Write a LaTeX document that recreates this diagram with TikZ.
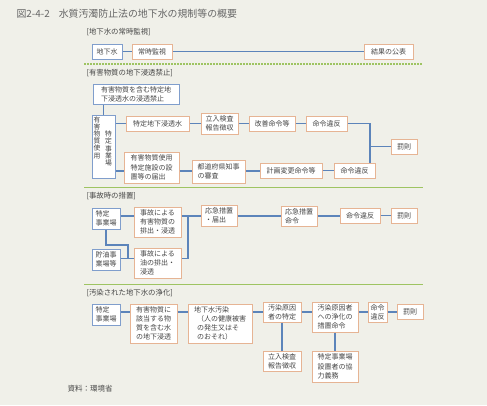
\documentclass[tikz,border=0pt]{standalone}
\usepackage{fontspec}
\usepackage{xcolor}
\usetikzlibrary{positioning,calc}
\newfontfamily\jpfont{Noto Sans CJK JP}
\definecolor{bgcol}{RGB}{240,240,233}
\definecolor{srcblue}{RGB}{128,158,204}
\definecolor{boxorange}{RGB}{230,180,148}
\definecolor{linkblue}{RGB}{92,132,186}
\definecolor{rulegreen}{RGB}{158,196,98}
\definecolor{txtgray}{RGB}{70,70,70}

\begin{document}
\begin{tikzpicture}[x=1pt, y=-1pt,
  every node/.style={text=txtgray, font=\jpfont\fontsize{7}{9.2}\selectfont},
  srcbox/.style={draw=srcblue, line width=1pt, fill=white, inner sep=1pt, align=left},
  obox/.style={draw=boxorange, line width=1pt, fill=white, inner sep=1pt, align=left},
  link/.style={linkblue, line width=1.2pt},
  seclabel/.style={anchor=west, font=\jpfont\fontsize{7.4}{9}\selectfont},
  vcol/.style={align=center, inner sep=0pt, font=\jpfont\fontsize{6.8}{7.2}\selectfont}]
		\useasboundingbox (0,0) rectangle (487,405);
		\fill[bgcol] (0,0) rectangle (487,405);
		
		\node[anchor=west, font=\jpfont\fontsize{9.9}{12}\selectfont, text=black!60] (title) at (13,14) {図2-4-2\hspace{9pt}水質汚濁防止法の地下水の規制等の概要};
		
		\node[seclabel] (lab1) at (83,32) {[地下水の常時監視]};
		\node[srcbox, minimum width=30, minimum height=15] (gw) at (107,51.5) {地下水};
		\node[obox, minimum width=40, minimum height=15] (kanshi) at (152,51.5) {常時監視};
		\node[obox, minimum width=49, minimum height=15] (kohyo) at (388.5,51.5) {結果の公表};
		\draw[link] (gw) -- (kanshi);
		\draw[link] (kanshi) -- (kohyo);
		\draw[rulegreen, line width=1.2pt, dash pattern=on 1.5pt off 1.5pt] (84,64) -- (423,64);
		
		\node[seclabel] (lab2) at (83,73) {[有害物質の地下浸透禁止]};
		\node[srcbox, minimum width=86, minimum height=20] (kinshi) at (136,94) {有害物質を含む特定地\\下浸透水の浸透禁止};
		\node[srcbox, minimum width=23, minimum height=63] (vbox) at (103.5,146.5) {};
		\node[vcol] (vleft) at (97,137.5) {有\\害\\物\\質\\使\\用};
		\node[vcol] (vright) at (108.5,148.5) {特\\定\\事\\業\\場};
		\node[obox, minimum width=63, minimum height=15] (shinto) at (157.5,123.5) {特定地下浸透水};
		\node[obox, minimum width=37, minimum height=21] (tachi2) at (219.5,123.5) {立入検査\\報告徴収};
		\node[obox, minimum width=46, minimum height=15] (kaizen) at (272,123.5) {改善命令等};
		\node[obox, minimum width=41, minimum height=15] (ihan2a) at (326.5,123.5) {命令違反};
		\node[obox, minimum width=26, minimum height=15] (batsu2) at (404,146.5) {罰則};
		\node[obox, minimum width=55, minimum height=31] (todoke) at (151.5,167.5) {有害物質使用\\特定施設の設\\置等の届出};
		\node[obox, minimum width=53, minimum height=23] (shinsa) at (218.5,171.5) {都道府県知事\\の審査};
		\node[obox, minimum width=62, minimum height=15] (keikaku) at (291,170.5) {計画変更命令等};
		\node[obox, minimum width=41, minimum height=15] (ihan2b) at (354.5,170.5) {命令違反};
		\coordinate (row2a) at (0,123.5);
		\coordinate (row2b) at (0,171);
		\coordinate (bus2) at (370,0);
		\draw[link] (kinshi.south -| vbox.north) -- (vbox.north);
		\draw[link] (vbox.east |- row2a) -- (shinto.west);
		\draw[link] (shinto) -- (tachi2);
		\draw[link] (tachi2) -- (kaizen);
		\draw[link] (kaizen) -- (ihan2a);
		\draw[link] (ihan2a.east) -- (bus2 |- ihan2a.east) -- (bus2 |- ihan2b.north);
		\draw[link] (bus2 |- batsu2.west) -- (batsu2.west);
		\draw[link] (vbox.east |- row2b) -- (todoke.west |- row2b);
		\draw[link] (todoke.east |- row2b) -- (shinsa.west |- row2b);
		\draw[link] (shinsa.east |- row2b) -- (keikaku.west |- row2b);
		\draw[link] (keikaku) -- (ihan2b);
		\draw[rulegreen, line width=1pt] (84,187) -- (423,187);
		
		\node[seclabel] (lab3) at (83,196) {[事故時の措置]};
		\node[srcbox, minimum width=28, minimum height=21] (jigyo3) at (106,218.5) {特定\\事業場};
		\node[obox, minimum width=47, minimum height=30] (jiko1) at (157.5,222) {事故による\\有害物質の\\排出・浸透};
		\node[obox, minimum width=36, minimum height=21] (oukyu1) at (219,215.5) {応急措置\\・届出};
		\node[srcbox, minimum width=28, minimum height=21] (choyu) at (106,259.5) {貯油事\\業場等};
		\node[obox, minimum width=47, minimum height=30] (jiko2) at (157.5,263) {事故による\\油の排出・\\浸透};
		\node[obox, minimum width=36, minimum height=20] (oukyu2) at (299,216) {応急措置\\命令};
		\node[obox, minimum width=40, minimum height=15] (ihan3) at (360,215.5) {命令違反};
		\node[obox, minimum width=26, minimum height=15] (batsu3) at (404,215.5) {罰則};
		\coordinate (row3a) at (0,216);
		\coordinate (row3b) at (0,258.5);
		\coordinate (bus3) at (188,0);
		\coordinate (kink3) at (128,245);
		\draw[link] (jigyo3.east |- row3a) -- (jiko1.west |- row3a);
		\draw[link] (jiko1.east |- row3a) -- (oukyu1.west |- row3a);
		\draw[link] (bus3 |- row3a) -- (bus3 |- row3b) -- (jiko2.east |- row3b);
		\draw[link] (choyu.east |- row3b) -- (jiko2.west |- row3b);
		\draw[link] (jigyo3.south) |- (kink3) -- (kink3 |- row3b);
		\draw[link] (oukyu1.east |- row3a) -- (oukyu2.west |- row3a);
		\draw[link] (oukyu2.east |- row3a) -- (ihan3.west |- row3a);
		\draw[link] (ihan3) -- (batsu3);
		\draw[rulegreen, line width=1pt] (84,284) -- (423,284);
		
		\node[seclabel] (lab4) at (83,293) {[汚染された地下水の浄化]};
		\node[srcbox, minimum width=28, minimum height=21] (jigyo4) at (106,314.5) {特定\\事業場};
		\node[obox, minimum width=47, minimum height=39] (gaito) at (153.5,323.5) {有害物質に\\該当する物\\質を含む水\\の地下浸透};
		\node[obox, minimum width=64, minimum height=39] (osen) at (220,323.5) {地下水汚染\\\hspace*{3pt}（人の健康被害\\\hspace*{3pt}の発生又はそ\\\hspace*{3pt}のおそれ）};
		\node[obox, minimum width=38, minimum height=20] (tokutei) at (282,312) {汚染原因\\者の特定};
		\node[obox, minimum width=46, minimum height=30] (sochi) at (335,317) {汚染原因者\\への浄化の\\措置命令};
		\node[obox, minimum width=19, minimum height=20] (ihan4) at (377.5,312) {命令\\違反};
		\node[obox, minimum width=26, minimum height=15] (batsu4) at (410,311.5) {罰則};
		\node[obox, minimum width=38, minimum height=20] (tachi4) at (282,361) {立入検査\\報告徴収};
		\node[obox, minimum width=46, minimum height=31] (kyoryoku) at (335,366.5) {特定事業場\\設置者の協\\力義務};
		\coordinate (row4) at (0,312);
		\draw[link] (jigyo4.east |- row4) -- (gaito.west |- row4);
		\draw[link] (gaito.east |- row4) -- (osen.west |- row4);
		\draw[link] (osen.east |- row4) -- (tokutei.west |- row4);
		\draw[link] (tokutei.east |- row4) -- (sochi.west |- row4);
		\draw[link] (sochi.east |- row4) -- (ihan4.west |- row4);
		\draw[link] (ihan4.east |- row4) -- (batsu4.west |- row4);
		\draw[link] (tokutei) -- (tachi4);
		\draw[link] (sochi) -- (kyoryoku);
		
		\node[anchor=west, font=\jpfont\fontsize{7.5}{9}\selectfont] (source) at (64,389) {資料：環境省};
		\end{tikzpicture}
\end{document}
